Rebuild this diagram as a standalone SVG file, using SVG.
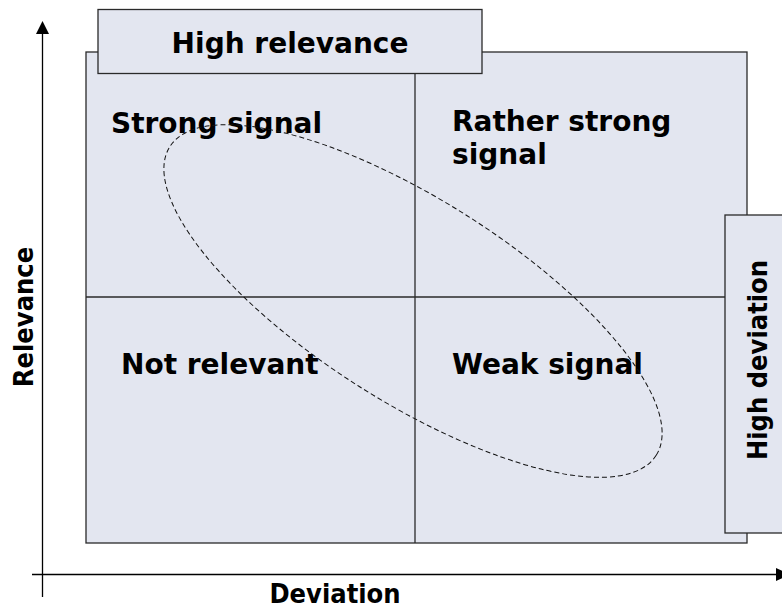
<svg xmlns="http://www.w3.org/2000/svg" width="782" height="610" viewBox="0 0 782 610">
  <defs>
    <style>
      .box { fill: #E3E6F0; stroke: #2a2a2a; stroke-width: 1.3; }
      .div { stroke: #2a2a2a; stroke-width: 1.3; fill: none; }
      .axis { stroke: #000; stroke-width: 1.3; fill: none; }
      .q { font-family: "DejaVu Sans", Verdana, sans-serif; font-weight: bold; font-size: 28px; fill: #000; }
      .ax { font-family: "DejaVu Sans Condensed", "DejaVu Sans", sans-serif; font-stretch: condensed; font-weight: bold; font-size: 27px; fill: #000; }
      .ell { fill: none; stroke: #111; stroke-width: 1; stroke-dasharray: 5 3; }
    </style>
  </defs>
  <rect width="782" height="610" fill="#fff"/>

  <g id="connectors">
    <line class="axis" x1="42.5" y1="597" x2="42.5" y2="33"/>
    <polygon points="42.5,21 36,34 49,34" fill="#000"/>
    <line class="axis" x1="32" y1="574.5" x2="777" y2="574.5"/>
    <polygon points="790,574.5 776,568 776,581" fill="#000"/>
  </g>

  <g id="matrix">
    <rect class="box" x="86" y="52" width="661" height="491"/>
    <line class="div" x1="415" y1="73" x2="415" y2="543"/>
    <line class="div" x1="86" y1="297" x2="725" y2="297"/>
  </g>

  <g id="high-relevance">
    <rect class="box" x="98" y="9.5" width="384" height="64"/>
    <text class="q" x="290" y="53" text-anchor="middle">High relevance</text>
  </g>

  <g id="high-deviation">
    <rect class="box" x="725" y="215" width="70" height="318"/>
    <text class="ax" transform="translate(767,360) rotate(-90)" text-anchor="middle">High deviation</text>
  </g>

  <g id="strong-signal">
    <text class="q" x="111" y="133">Strong signal</text>
  </g>
  <g id="rather-strong-signal">
    <text class="q" x="452" y="131">Rather strong</text>
    <text class="q" x="452" y="164">signal</text>
  </g>
  <g id="not-relevant">
    <text class="q" x="121" y="374">Not relevant</text>
  </g>
  <g id="weak-signal">
    <text class="q" x="452" y="374">Weak signal</text>
  </g>

  <g id="cluster">
    <ellipse class="ell" cx="0" cy="0" rx="288" ry="101" transform="translate(413,301) rotate(32.4)"/>
  </g>

  <g id="axis-labels">
    <text class="ax" transform="translate(33,317) rotate(-90)" text-anchor="middle">Relevance</text>
    <text class="ax" x="335" y="603" text-anchor="middle">Deviation</text>
  </g>
</svg>
